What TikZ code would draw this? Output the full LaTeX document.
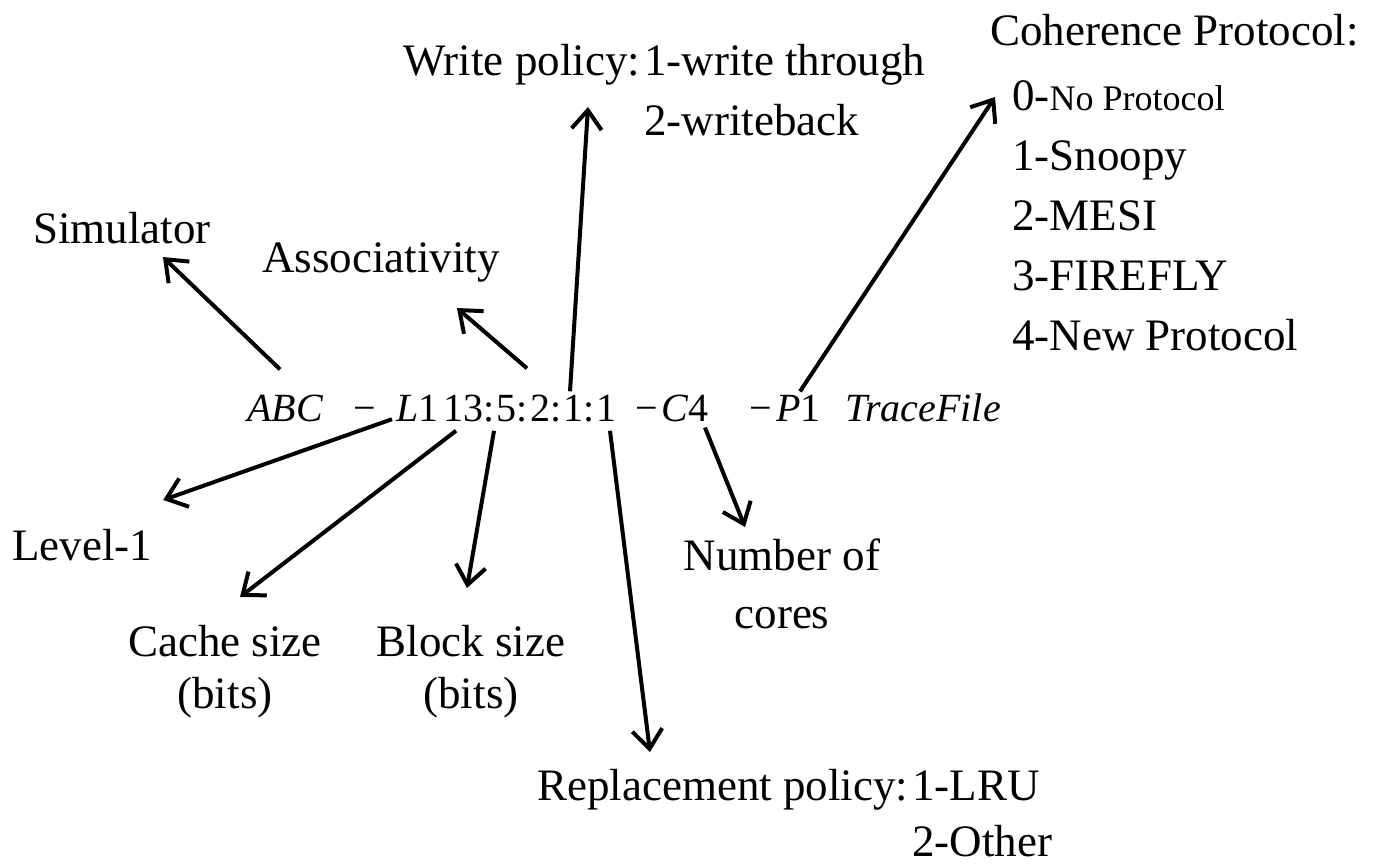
\documentclass[tikz,border=0pt]{standalone}
\usepackage{fontspec}
\setmainfont{Liberation Serif}
\usetikzlibrary{arrows.meta}
\begin{document}
\begin{tikzpicture}[x=1pt,y=-1pt,
  lbl/.style={inner sep=0pt, font=\fontsize{45}{52}\selectfont},
  tok/.style={inner sep=0pt, anchor=base, font=\fontsize{40}{44}\selectfont},
  arr/.style={line width=4pt, -{Straight Barb[length=19pt,width=30pt,line width=4pt]}}]
\useasboundingbox[fill=white] (0,0) rectangle (1376,865);

% the command line
\node[tok] (abc)   at (285,421) {\itshape ABC};
\node[tok] (lvl)   at (396,421) {−\hspace{20pt}{\itshape L}1};
\node[tok] (nums)  at (530,421) {13:\hspace{2pt}5:\hspace{2pt}2:\hspace{2pt}1:\hspace{2pt}1};
\node[tok] (c4)    at (672,421) {−\hspace{4pt}{\itshape C}4};
\node[tok] (p1)    at (785,421) {−\hspace{4pt}{\itshape P}1};
\node[tok] (trace) at (923,421) {\itshape TraceFile};

% labels above
\node[lbl, anchor=base west] (sim) at (33,243) {Simulator};
\node[lbl, anchor=base west] (assoc) at (262,272) {Associativity};
\node[lbl, anchor=north west, font=\fontsize{45}{60}\selectfont] (write) at (403,33)
  {\begin{tabular}{@{}l@{\hspace{4pt}}l@{}}Write policy: & 1-write through\\ & 2-writeback\end{tabular}};
\node[lbl, anchor=north west, font=\fontsize{45}{60}\selectfont] (coh) at (990,3)
  {\begin{tabular}{@{}l@{}}Coherence Protocol:\\[5pt]
   \hspace{22pt}0-{\fontsize{36}{60}\selectfont No Protocol}\\
   \hspace{22pt}1-Snoopy\\
   \hspace{22pt}2-MESI\\
   \hspace{22pt}3-FIREFLY\\
   \hspace{22pt}4-New Protocol\end{tabular}};

% labels below
\node[lbl, anchor=base west] (lev) at (12,560) {Level-1};
\node[lbl, anchor=north] (cache) at (225,620)
  {\begin{tabular}{@{}c@{}}Cache size\\(bits)\end{tabular}};
\node[lbl, anchor=north] (block) at (471,620)
  {\begin{tabular}{@{}c@{}}Block size\\(bits)\end{tabular}};
\node[lbl, anchor=north, font=\fontsize{45}{58}\selectfont] (ncores) at (782,530)
  {\begin{tabular}{@{}c@{}}Number of\\cores\end{tabular}};
\node[lbl, anchor=north west, font=\fontsize{45}{56}\selectfont] (repl) at (537,761)
  {\begin{tabular}{@{}l@{\hspace{4pt}}l@{}}Replacement policy: & 1-LRU\\ & 2-Other\end{tabular}};

% arrows
\draw[arr] ([shift={(-5,-25)}]abc.north) -- ([shift={(41,14)}]sim.base);
\draw[arr] ([shift={(-3,-26)}]nums.north) -- ([shift={(76,36)}]assoc.base);
\draw[arr] ([shift={(40,-3)}]nums.north) -- ([shift={(185,74)}]write.north west);
\draw[arr] ([shift={(15,-3)}]p1.north) -- ([shift={(5,94)}]coh.north west);
\draw[arr] ([shift={(-4,-2)}]lvl.south) -- ([shift={(81,-60)}]lev.base);
\draw[arr] ([shift={(-74,9)}]nums.south) -- ([shift={(15,-23)}]cache.north);
\draw[arr] ([shift={(-36,9)}]nums.south) -- ([shift={(-4,-32)}]block.north);
\draw[arr] ([shift={(80,9)}]nums.south) -- ([shift={(113,-9)}]repl.north west);
\draw[arr] ([shift={(33,6)}]c4.south) -- ([shift={(-37,-3)}]ncores.north);
\end{tikzpicture}
\end{document}
